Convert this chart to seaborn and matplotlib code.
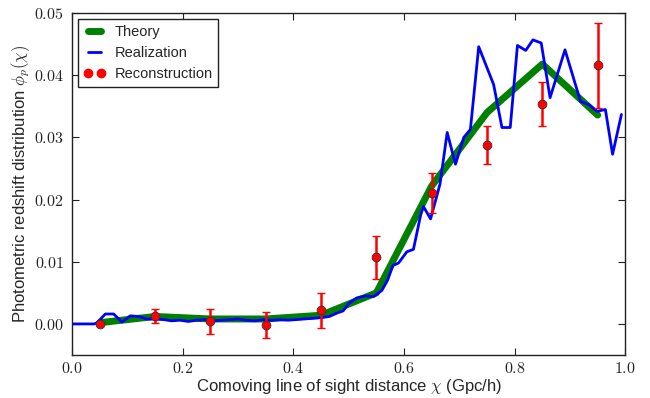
import matplotlib
matplotlib.use("Agg")
import matplotlib.pyplot as plt
import seaborn as sns
import pandas as pd
from matplotlib.lines import Line2D
from matplotlib.ticker import FormatStrFormatter

# --- data ---
theory_x = [0.05, 0.15, 0.25, 0.35, 0.45, 0.55, 0.65, 0.75, 0.85, 0.95]
theory_y = [0.0002, 0.0012, 0.0008, 0.0008, 0.0014, 0.0050, 0.0222, 0.0340, 0.0418, 0.0336]

real_x = [0.00, 0.04, 0.045, 0.06, 0.075, 0.09, 0.105, 0.12, 0.135, 0.15,
          0.165, 0.18, 0.195, 0.21, 0.225, 0.24, 0.255, 0.27, 0.285, 0.30,
          0.315, 0.33, 0.345, 0.36, 0.375, 0.39, 0.405, 0.42, 0.435, 0.45,
          0.465, 0.48, 0.49, 0.50, 0.515, 0.53, 0.545, 0.56, 0.57, 0.58,
          0.59, 0.605, 0.617, 0.63, 0.635, 0.648, 0.665, 0.678, 0.693, 0.708,
          0.72, 0.735, 0.762, 0.777, 0.792, 0.805, 0.82, 0.833, 0.848, 0.864,
          0.891, 0.919, 0.934, 0.949, 0.964, 0.977, 0.993]
real_y = [0.0, 0.0, 0.0002, 0.0016, 0.0016, 0.0003, 0.0013, 0.0012, 0.0008, 0.0008,
          0.0007, 0.0005, 0.0006, 0.0004, 0.0006, 0.0007, 0.0005, 0.0006, 0.0007, 0.0008,
          0.0006, 0.0005, 0.0007, 0.0006, 0.0007, 0.0006, 0.0007, 0.0008, 0.0009, 0.0010,
          0.0012, 0.0018, 0.0021, 0.0033, 0.0042, 0.0045, 0.0044, 0.0054, 0.0070, 0.0094,
          0.0098, 0.0116, 0.0120, 0.0175, 0.0189, 0.0169, 0.0225, 0.0308, 0.0257, 0.0300,
          0.0313, 0.0446, 0.0385, 0.0316, 0.0316, 0.0448, 0.0440, 0.0457, 0.0452, 0.0364,
          0.0441, 0.0358, 0.0353, 0.0342, 0.0345, 0.0273, 0.0337]

reco_x = [0.05, 0.15, 0.25, 0.35, 0.45, 0.55, 0.65, 0.75, 0.85, 0.95]
reco_y = [0.0000, 0.0013, 0.0004, -0.0001, 0.0022, 0.0107, 0.0211, 0.0288, 0.0354, 0.0416]
reco_err = [0.0001, 0.0011, 0.0020, 0.0021, 0.0028, 0.0034, 0.0032, 0.0030, 0.0036, 0.0068]

theory = pd.DataFrame({"x": theory_x, "y": theory_y})
real = pd.DataFrame({"x": real_x, "y": real_y})
reco = pd.DataFrame({"x": reco_x, "y": reco_y, "err": reco_err})

sns.set_style("ticks")
plt.rcParams["font.family"] = ["Liberation Sans", "DejaVu Sans"]
plt.rcParams["mathtext.fontset"] = "cm"
plt.rcParams["xtick.direction"] = "in"
plt.rcParams["ytick.direction"] = "in"
plt.rcParams["xtick.top"] = True
plt.rcParams["ytick.right"] = True

fig = plt.figure(figsize=(6.5, 3.98), dpi=100)
ax = fig.add_axes([0.111, 0.108, 0.851, 0.859])

sns.lineplot(data=theory, x="x", y="y", ax=ax, color="green", linewidth=5,
             estimator=None, legend=False)
sns.lineplot(data=real, x="x", y="y", ax=ax, color="blue", linewidth=2,
             estimator=None, legend=False)
ax.errorbar(reco["x"], reco["y"], yerr=reco["err"], fmt="none", ecolor="red",
            elinewidth=1.8, capsize=3, capthick=1, zorder=3)
sns.scatterplot(data=reco, x="x", y="y", ax=ax, color="red", s=40,
                edgecolor="#333333", linewidth=0.6, zorder=4, legend=False)

ax.set_xlim(0, 1.0)
ax.set_ylim(-0.005, 0.05)
ax.set_xticks([0.0, 0.2, 0.4, 0.6, 0.8, 1.0])
ax.set_yticks([0.0, 0.01, 0.02, 0.03, 0.04, 0.05])
ax.xaxis.set_major_formatter(FormatStrFormatter(r"$%.1f$"))
ax.yaxis.set_major_formatter(FormatStrFormatter(r"$%.2f$"))
ax.tick_params(labelsize=11.5, length=5, width=0.8, colors="#222222")
ax.tick_params(axis="x", pad=4)
ax.tick_params(axis="y", pad=6)
for s in ax.spines.values():
    s.set_linewidth(1.0)
    s.set_color("#222222")

ax.set_xlabel(r"Comoving line of sight distance $\chi$ (Gpc/h)", fontsize=12, labelpad=1)
ax.set_ylabel(r"Photometric redshift distribution $\phi_p(\chi)$", fontsize=12, labelpad=1)

handles = [
    Line2D([], [], color="green", linewidth=5),
    Line2D([], [], color="blue", linewidth=2),
    Line2D([], [], color="red", marker="o", linestyle="none", markersize=6,
           markeredgecolor="red"),
]
leg = ax.legend(handles, ["Theory", "Realization", "Reconstruction"],
                loc="upper left", fontsize=10.5, numpoints=2, fancybox=False,
                framealpha=1, edgecolor="#222222", handlelength=1.5,
                handletextpad=0.6, borderaxespad=0.4, labelspacing=0.5,
                borderpad=0.4)
leg.get_frame().set_linewidth(1.0)

fig.savefig("out.png", dpi=100)
